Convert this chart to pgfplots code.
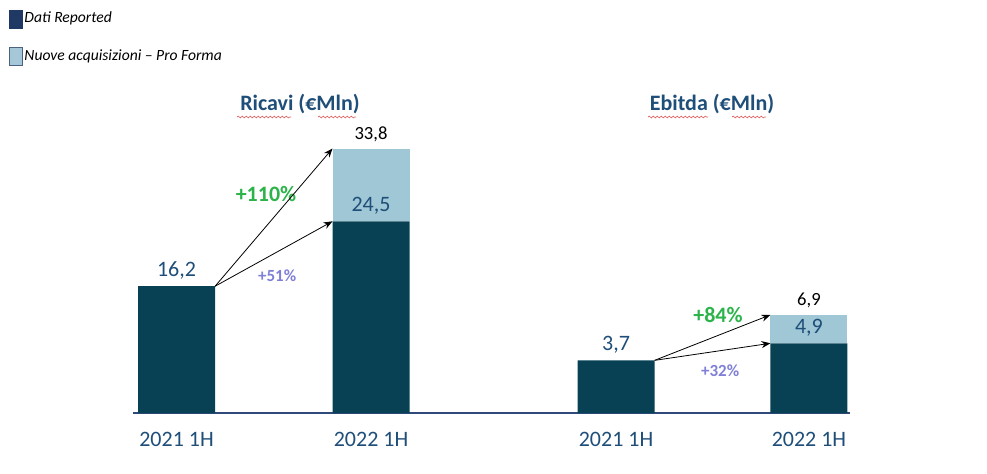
\documentclass[border=0pt]{standalone}
\usepackage{fontspec}
\setmainfont{Carlito}
\usepackage{pgfplots}
\pgfplotsset{compat=1.18}
\usetikzlibrary{decorations.pathmorphing,arrows.meta}

\definecolor{bardark}{HTML}{084054}
\definecolor{barlight}{HTML}{9FC7D5}
\definecolor{legnavy}{HTML}{1F3864}
\definecolor{leglight}{HTML}{A4C8D8}
\definecolor{lblblue}{HTML}{1F4E79}
\definecolor{pctgreen}{HTML}{2CB34A}
\definecolor{pctpurple}{HTML}{7F7FD6}
\definecolor{basenavy}{HTML}{2F4A7A}
\definecolor{spellred}{HTML}{E06666}

\pgfplotsset{
  common/.style={
    at={(66.5pt,30pt)}, anchor=south west,
    scale only axis, width=358.5pt, height=156.5pt,
    xmin=-0.224, xmax=3.463, ymin=0,
    clip=false, ybar stacked, bar width=0.396,
  },
}
\tikzset{
  big/.style={font=\fontsize{11}{13}\selectfont, text=lblblue},
  small/.style={font=\fontsize{9.3}{11}\selectfont, text=black},
  grn/.style={font=\bfseries\fontsize{11}{13}\selectfont, text=pctgreen},
  prp/.style={font=\bfseries\fontsize{8.5}{10}\selectfont, text=pctpurple},
  arr/.style={-{Stealth[length=4.5pt,width=3.5pt]}, line width=0.4pt, black},
  wavy/.style={spellred, line width=0.35pt,
    decorate, decoration={snake, amplitude=0.45pt, segment length=2pt}},
}

\begin{document}
\begin{tikzpicture}
\useasboundingbox (0,0) rectangle (493.5pt,236.5pt);

% Ricavi
\begin{axis}[common, ymax=40,
  axis x line*=bottom, axis y line=none,
  x axis line style={draw=basenavy, line width=1pt},
  xtick={0,1,2.26,3.252},
  xticklabels={2021 1H,2022 1H,2021 1H,2022 1H},
  major tick length=0pt,
  xticklabel style={font=\fontsize{11}{13}\selectfont, text=lblblue, yshift=-6pt},
  legend image code/.code={\draw[#1] (0pt,-4.5pt) rectangle (6.5pt,4.5pt);},
  legend style={at={(-0.174,1.29)}, anchor=north west, draw=none, fill=none,
    font=\itshape\fontsize{7.8}{9}\selectfont, row sep=9.5pt,
    inner sep=0pt, nodes={inner sep=1pt}},
  legend cell align=left,
]
\addlegendimage{fill=legnavy, draw=legnavy}
\addlegendentry{Dati Reported}
\addlegendimage{fill=leglight, draw=legnavy!80, line width=0.4pt}
\addlegendentry{Nuove acquisizioni -- Pro Forma}

\addplot[fill=bardark, draw=none, forget plot] coordinates {(0,16.2) (1,24.5)};
\addplot[fill=barlight, draw=none, forget plot] coordinates {(0,0) (1,9.3)};

\coordinate (r1) at (axis cs:0,16.2);
\coordinate (r2) at (axis cs:1,24.5);
\coordinate (r3) at (axis cs:1,33.8);
\draw[arr] (axis cs:0.198,16.2) -- (axis cs:0.802,33.8);
\draw[arr] (axis cs:0.198,16.2) -- (axis cs:0.802,24.5);
\node[grn] at (axis cs:0.46,28) {+110\%};
\node[prp] at (axis cs:0.517,17.6) {+51\%};
\end{axis}

% Ebitda
\begin{axis}[common, ymax=22, hide axis]
\addplot[fill=bardark, draw=none] coordinates {(2.26,3.7) (3.252,4.9)};
\addplot[fill=barlight, draw=none] coordinates {(2.26,0) (3.252,2.0)};

\coordinate (e1) at (axis cs:2.26,3.7);
\coordinate (e2) at (axis cs:3.252,4.9);
\coordinate (e3) at (axis cs:3.252,6.9);
\draw[arr] (axis cs:2.458,3.7) -- (axis cs:3.054,6.9);
\draw[arr] (axis cs:2.458,3.7) -- (axis cs:3.054,4.9);
\node[grn] at (axis cs:2.784,6.9) {+84\%};
\node[prp] at (axis cs:2.795,3.0) {+32\%};
\end{axis}

% value labels
\node[big, above] at (r1) {16,2};
\node[big, above] at (r2) {24,5};
\node[small, above] at (r3) {33,8};
\node[big, above] at (e1) {3,7};
\node[big, above] at (e2) {4,9};
\node[small, above] at (e3) {6,9};

% titles
\node[font=\bfseries\fontsize{11}{13}\selectfont, text=lblblue] at (150pt,184.5pt) {Ricavi (€Mln)};
\node[font=\bfseries\fontsize{11}{13}\selectfont, text=lblblue] at (356pt,184.5pt) {Ebitda (€Mln)};
\draw[wavy] (118.5pt,178pt) -- (145.5pt,178pt);
\draw[wavy] (159pt,178pt) -- (178pt,178pt);
\draw[wavy] (324pt,178pt) -- (354pt,178pt);
\draw[wavy] (366pt,178pt) -- (383pt,178pt);
\end{tikzpicture}
\end{document}
